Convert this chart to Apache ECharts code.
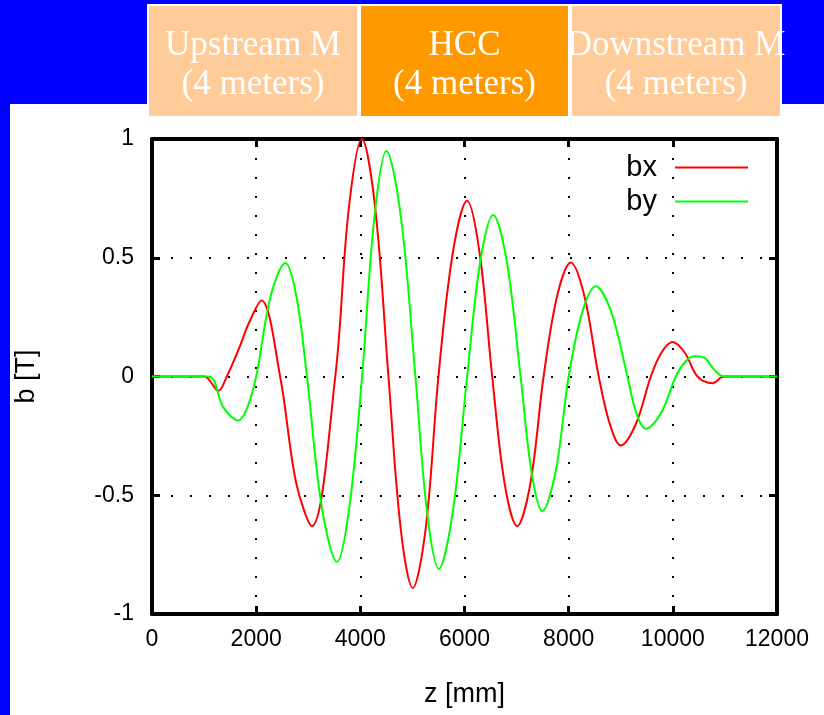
<!DOCTYPE html>
<html>
<head>
<meta charset="utf-8">
<script src="https://cdn.jsdelivr.net/npm/echarts@6/dist/echarts.min.js"></script>
<style>
html,body{margin:0;padding:0;background:#0000ff;}
#chart{width:824px;height:715px;}
</style>
</head>
<body>
<div id="chart"></div>
<script>
// ---- data ----
var bxZ   = [0, 1000, 1276, 1436, 1692, 1850, 2100, 2460, 2770, 3070, 3519, 3775, 4030, 4285, 4540, 4775, 5006, 5255, 5500, 5775, 6050, 6290, 6532, 6770, 7010, 7265, 7519, 7780, 8040, 8300, 8577, 8790, 9000, 9290, 9577, 9780, 9994, 10230, 10474, 10763, 10981, 12000];
var bxVal = [0, 0, -0.06, 0, 0.13, 0.22, 0.32, 0, -0.45, -0.63, 0, 0.70, 1.0, 0.71, 0, -0.64, -0.89, -0.64, 0, 0.52, 0.74, 0.52, 0, -0.45, -0.63, -0.45, 0, 0.34, 0.48, 0.34, 0, -0.20, -0.29, -0.20, 0, 0.10, 0.145, 0.10, 0, -0.028, 0, 0];
var byZ   = [0, 1077, 1370, 1660, 1830, 2000, 2280, 2560, 2770, 2975, 3260, 3551, 3790, 4033, 4270, 4500, 4780, 5058, 5280, 5506, 5775, 6051, 6300, 6551, 6815, 7077, 7285, 7494, 7750, 8000, 8260, 8519, 8820, 9128, 9300, 9481, 9770, 10058, 10230, 10404, 10596, 10790, 10981, 12000];
var byVal = [0, 0, -0.13, -0.185, -0.13, 0, 0.34, 0.478, 0.34, 0, -0.55, -0.78, -0.55, 0, 0.67, 0.95, 0.67, 0, -0.57, -0.81, -0.57, 0, 0.48, 0.68, 0.48, 0, -0.40, -0.567, -0.40, 0, 0.27, 0.38, 0.27, 0, -0.155, -0.22, -0.155, 0, 0.06, 0.085, 0.08, 0.03, 0, 0];
var seriesNames = ['bx', 'by'];
var xTicks = [0, 2000, 4000, 6000, 8000, 10000, 12000];
var xTickLabels = ['0', '2000', '4000', '6000', '8000', '10000', '12000'];
var yTicks = [-1, -0.5, 0, 0.5, 1];
var yTickLabels = ['-1', '-0.5', '0', '0.5', '1'];
var boxLines = [['Upstream M', '(4 meters)'], ['HCC', '(4 meters)'], ['Downstream M', '(4 meters)']];
var xName = 'z [mm]';
var yName = 'b [T]';

function pairs(xs, ys) { return xs.map(function (x, i) { return [x, ys[i]]; }); }

var tickFont = "'Liberation Sans','DejaVu Sans',sans-serif";
var serif = "'Liberation Serif','DejaVu Serif',serif";

var chart = echarts.init(document.getElementById('chart'), null, {renderer: 'canvas'});

var boxX = [148, 360, 571];
var boxW = [210, 209, 210];
var boxFill = ['#ffcc99', '#ff9900', '#ffcc99'];
var graphics = [
  {type: 'rect', z: -10, shape: {x: 10, y: 104, width: 814, height: 611}, style: {fill: '#ffffff'}}
];
boxLines.forEach(function (lines, i) {
  graphics.push({type: 'rect', z: 1, shape: {x: boxX[i], y: 5, width: boxW[i], height: 112},
    style: {fill: boxFill[i], stroke: '#ffffff', lineWidth: 2}});
  graphics.push({type: 'text', z: 2, x: boxX[i] + boxW[i] / 2, y: 65,
    style: {text: lines.join('\n'), fill: '#ffffff', font: '35px ' + serif, lineHeight: 39,
      textAlign: 'center', textVerticalAlign: 'middle'}});
});

var xMap = {}, yMap = {};
xTicks.forEach(function (v, i) { xMap[v] = xTickLabels[i]; });
yTicks.forEach(function (v, i) { yMap[v] = yTickLabels[i]; });

var axisLineStyle = {color: '#000', width: 4};
var dotted = {color: '#000', width: 2, type: [2, 17]};

var option = {
  backgroundColor: '#0000ff',
  animation: false,
  graphic: graphics,
  grid: {left: 152, right: 47, top: 139, bottom: 101, containLabel: false},
  legend: {
    data: seriesNames, orient: 'vertical', right: 71, top: 148,
    align: 'right', icon: 'rect', itemWidth: 73, itemHeight: 2, itemGap: 5,
    textStyle: {fontFamily: tickFont, fontSize: 29, color: '#000', padding: [0, 13, 0, 0]}
  },
  xAxis: [{
    type: 'value', min: xTicks[0], max: xTicks[xTicks.length - 1], interval: xTicks[1] - xTicks[0],
    position: 'bottom',
    name: xName, nameLocation: 'middle', nameGap: 67,
    nameTextStyle: {fontFamily: tickFont, fontSize: 27, color: '#000'},
    axisLine: {show: true, onZero: false, lineStyle: axisLineStyle},
    axisTick: {show: true, inside: true, length: 8, lineStyle: {color: '#000', width: 3}},
    axisLabel: {margin: 14, fontFamily: tickFont, fontSize: 23, color: '#000',
      formatter: function (v) { return xMap[v] !== undefined ? xMap[v] : String(v); }},
    splitLine: {show: true, lineStyle: dotted}
  }, {
    type: 'value', min: xTicks[0], max: xTicks[xTicks.length - 1], interval: xTicks[1] - xTicks[0],
    position: 'top',
    axisLine: {show: true, onZero: false, lineStyle: axisLineStyle},
    axisTick: {show: true, inside: true, length: 8, lineStyle: {color: '#000', width: 3}},
    axisLabel: {show: false}, splitLine: {show: false}
  }],
  yAxis: [{
    type: 'value', min: yTicks[0], max: yTicks[yTicks.length - 1], interval: 0.5,
    position: 'left',
    name: yName, nameLocation: 'middle', nameGap: 112, nameRotate: 90,
    nameTextStyle: {fontFamily: tickFont, fontSize: 27, color: '#000'},
    axisLine: {show: true, onZero: false, lineStyle: axisLineStyle},
    axisTick: {show: true, inside: true, length: 8, lineStyle: {color: '#000', width: 3}},
    axisLabel: {margin: 18, fontFamily: tickFont, fontSize: 23, color: '#000',
      formatter: function (v) { return yMap[v] !== undefined ? yMap[v] : String(v); }},
    splitLine: {show: true, lineStyle: dotted}
  }, {
    type: 'value', min: yTicks[0], max: yTicks[yTicks.length - 1], interval: 0.5,
    position: 'right',
    axisLine: {show: true, onZero: false, lineStyle: axisLineStyle},
    axisTick: {show: true, inside: true, length: 8, lineStyle: {color: '#000', width: 3}},
    axisLabel: {show: false}, splitLine: {show: false}
  }],
  series: [{
    name: seriesNames[0], type: 'line', xAxisIndex: 0, yAxisIndex: 0,
    data: pairs(bxZ, bxVal), showSymbol: false, symbol: 'none', smooth: 0.35,
    color: '#ff0000', lineStyle: {color: '#ff0000', width: 2}, z: 3
  }, {
    name: seriesNames[1], type: 'line', xAxisIndex: 0, yAxisIndex: 0,
    data: pairs(byZ, byVal), showSymbol: false, symbol: 'none', smooth: 0.35,
    color: '#00ff00', lineStyle: {color: '#00ff00', width: 2}, z: 3
  }]
};
chart.setOption(option);
</script>
</body>
</html>
